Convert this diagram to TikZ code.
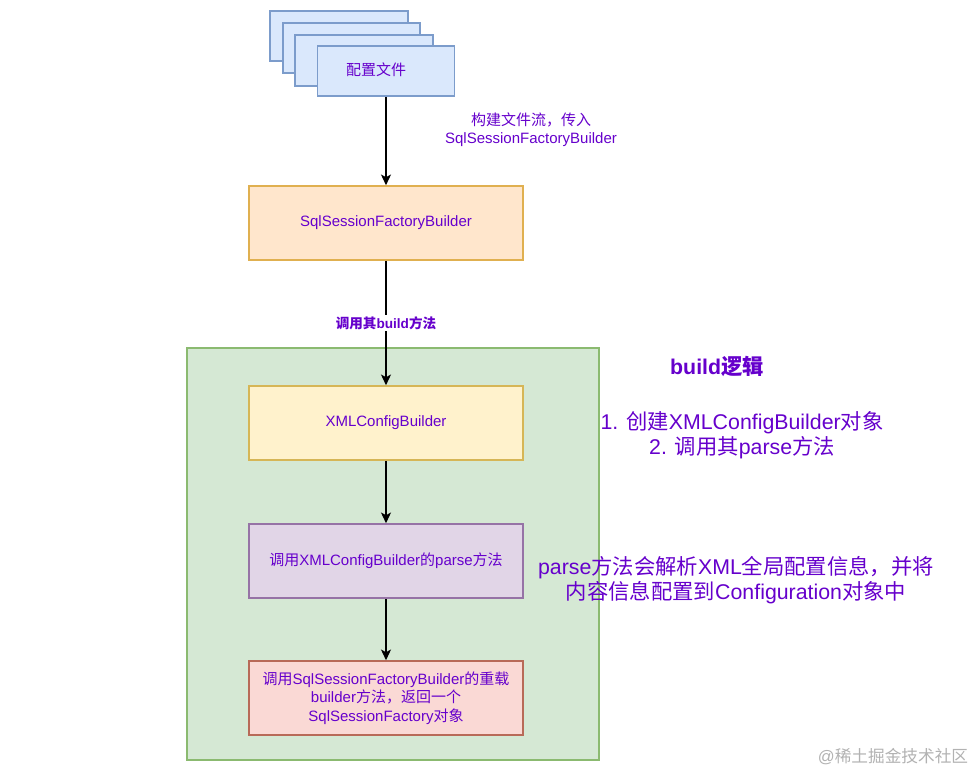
\documentclass[tikz,border=0pt]{standalone}
\usepackage{fontspec}
\setmainfont{Liberation Sans}
\newfontfamily\cjk{Noto Sans CJK SC}
\newcommand{\zh}[1]{{\cjk #1}}
\usetikzlibrary{arrows.meta}
\usetikzlibrary{positioning}

\definecolor{txtpurple}{RGB}{102,0,204}
\definecolor{bluefill}{HTML}{DAE8FC}
\definecolor{bluedraw}{HTML}{7C9CCB}
\definecolor{orangefill}{HTML}{FFE6CC}
\definecolor{orangedraw}{HTML}{E0B050}
\definecolor{yellowfill}{HTML}{FFF2CC}
\definecolor{yellowdraw}{HTML}{D6B656}
\definecolor{purplefill}{HTML}{E1D5E7}
\definecolor{purpledraw}{HTML}{9673A6}
\definecolor{redfill}{HTML}{FAD9D5}
\definecolor{reddraw}{HTML}{B86A58}
\definecolor{greenfill}{HTML}{D5E8D4}
\definecolor{greendraw}{HTML}{8BBA70}

\tikzset{
    box/.style={draw, line width=1.2pt, minimum width=205.5pt, minimum height=55.5pt,
        inner sep=2pt, align=center, text=txtpurple, font=\fontsize{11.25}{13.9}\selectfont},
    filebox/.style={draw=bluedraw, fill=bluefill, line width=1.2pt},
    flow/.style={-{Stealth[length=8pt,width=7.5pt,inset=2pt]}, line width=0.9pt},
    note/.style={text=txtpurple, align=center, font=\fontsize{16}{18.9}\selectfont},
}

\begin{document}
\begin{tikzpicture}[x=0.75pt, y=-0.75pt]
    \useasboundingbox[fill=white] (0, 0) rectangle (979, 774);

    % stacked config files
    \draw[filebox] (270, 11) rectangle (408, 61);
    \draw[filebox] (283, 23) rectangle (420, 73);
    \draw[filebox] (295, 35) rectangle (433, 86);
    \node[filebox, minimum width=102.75pt, minimum height=37.5pt, inner sep=0] (cfg) at (386, 71) {};
    \node[text=txtpurple, font=\fontsize{11.25}{13.9}\selectfont] (cfgtxt) at (376, 70) {\zh{配置文件}};

    % build logic container
    \draw[draw=greendraw, fill=greenfill, line width=1.2pt] (187, 348) rectangle (599, 760);

    \node[box, draw=orangedraw, fill=orangefill] (sfb) at (386, 223) {SqlSessionFactoryBuilder};
    \node[box, draw=yellowdraw, fill=yellowfill] (xcb) at (386, 423) {XMLConfigBuilder};
    \node[box, draw=purpledraw, fill=purplefill] (parse) at (386, 561) {\zh{调用}XMLConfigBuilder\zh{的}parse\zh{方法}};
    \node[box, draw=reddraw, fill=redfill] (ret) at (386, 698) {\zh{调用}SqlSessionFactoryBuilder\zh{的重载}\\builder\zh{方法，返回一个}\\SqlSessionFactory\zh{对象}};

    % connectors
    \draw[flow] (cfg) -- (sfb);
    \node[text=txtpurple, align=center, font=\fontsize{11.25}{13.5}\selectfont] (flowlbl) at (531, 130) {\zh{构建文件流，传入}\\SqlSessionFactoryBuilder};
    \draw[flow] (sfb) -- node[fill=white, text=txtpurple, inner sep=1pt, font=\fontsize{10.2}{12}\selectfont\bfseries] (buildlbl) {\zh{调用其}build\zh{方法}} (xcb);
    \draw[flow] (xcb) -- (parse);
    \draw[flow] (parse) -- (ret);

    % notes
    \node[note, font=\fontsize{16}{18.9}\selectfont\bfseries] (title) at (717, 366) {build\zh{逻辑}};
    \node[note] (steps) at (742, 435) {1. \zh{创建}XMLConfigBuilder\zh{对象}\\2. \zh{调用其}parse\zh{方法}};
    \node[note] (parsenote) at (736, 580.5) {parse\zh{方法会解析}XML\zh{全局配置信息，并将}\\\zh{内容信息配置到}Configuration\zh{对象中}};

    \node[text=black!30, font=\fontsize{12.5}{14}\selectfont] (mark) at (893, 757) {@\zh{稀土掘金技术社区}};
\end{tikzpicture}
\end{document}
